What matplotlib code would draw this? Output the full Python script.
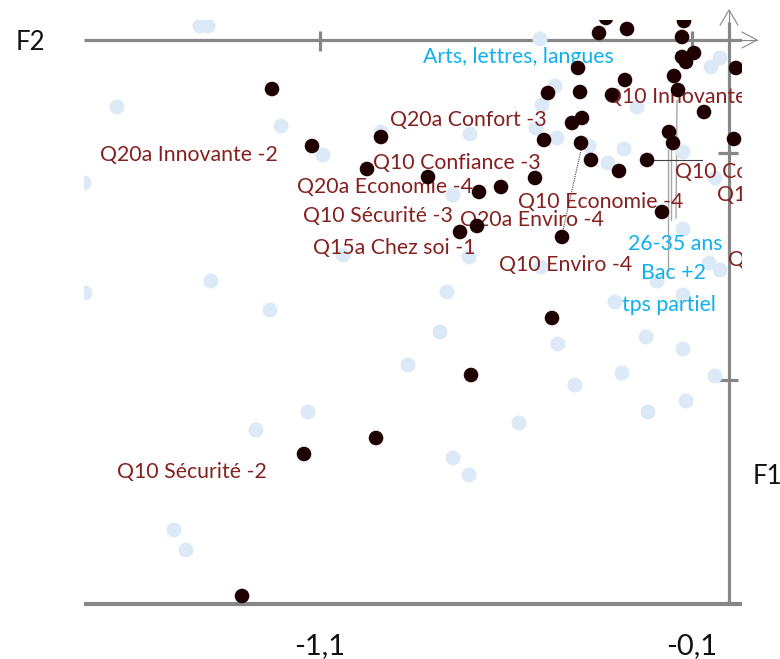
import matplotlib
matplotlib.use("Agg")
import matplotlib.pyplot as plt

plt.rcParams['font.family'] = ['Lato', 'DejaVu Sans']

# ---- data (factor coordinates) ----
dark_x = [-1.2285, -1.1210, -0.9355, -0.9731, -0.8091, -0.6720, -0.6129, -0.5215,
          -0.7231, -0.6774, -0.4489, -0.4758, -0.6935, -0.9489, -1.1425, -1.3091,
          -0.3495, -0.2742, -0.3306, -0.1210, -0.1263, -0.4059, -0.4866, -0.4005,
          -0.2796, -0.4220, -0.3952, -0.4973, -0.3978, -0.3710, -0.2957, -0.2204,
          -0.1478, -0.1263, -0.0941, -0.1156, -0.1371, -0.3145, -0.0672, 0.0188,
          0.0134, -0.1613, -0.1505, -0.1801]
dark_y = [-0.2159, -0.4670, -0.4273, -0.5683, -0.6035, -0.6696, -0.6476, -0.6079,
          -0.8458, -0.8194, -0.8678, -1.2247, -1.4758, -1.7533, -1.8238, -2.4493,
          0.0308, 0.0485, 0.0969, 0.0837, 0.0132, -0.1233, -0.2335, -0.2291,
          -0.1762, -0.3656, -0.3436, -0.4405, -0.4537, -0.5286, -0.5771, -0.5286,
          -0.1586, -0.0749, -0.0573, -0.0969, -0.2203, -0.2423, -0.3172, -0.1233,
          -0.4361, -0.4053, -0.4537, -0.7577]

light_x = [-1.4220, -1.4005, -1.6452, -1.2043, -1.0914, -0.9355, -1.7339, -1.0376,
           -1.3925, -1.7312, -1.2339, -0.6962, -0.7419, -0.6989, -0.5081, -0.0242,
           -0.0484, -0.4677, -0.5027, -0.5188, -0.4624, -0.3763, -0.3253, -0.2823,
           -0.2473, -0.0376, -0.1237, -0.1237, -0.5054, -0.7581, -0.3065, -0.0538,
           -0.0242, -0.1935, -0.1237, -0.7769, -0.8629, -0.4597, -0.2231, -0.1237,
           -0.2876, -0.4140, -0.0376, -0.1156, -0.2177, -0.5645, -0.7419, -0.6989,
           -1.1317, -1.2715, -1.4919, -1.4597]
light_y = [0.0617, 0.0617, -0.2952, -0.3789, -0.5066, -0.4053, -0.6300, -0.9471,
           -1.0617, -1.1145, -1.1894, -0.4141, -0.6828, -0.9559, 0.0044, -0.0793,
           -0.1189, -0.2026, -0.2863, -0.3877, -0.4317, -0.4670, -0.5419, -0.4802,
           -0.2952, -0.6079, -0.8326, -0.4934, -1.0000, -1.1101, -1.1542, -0.9824,
           -1.0132, -1.0617, -1.1233, -1.2863, -1.4317, -1.3392, -1.3084, -1.3612,
           -1.4670, -1.5198, -1.4802, -1.5903, -1.6388, -1.6872, -1.8414, -1.9163,
           -1.6388, -1.7181, -2.1586, -2.2467]

# labels of the dark (question) points
red_labels = ["Q20a Innovante -2", "Q20a Confort -3", "Q10 Confiance -3",
              "Q20a Economie -4", "Q10 Sécurité -3", "Q15a Chez soi -1",
              "Q20a Enviro -4", "Q10 Economie -4", "Q10 Enviro -4",
              "Q10 Innovante -3", "Q10 Confort -4", "Q10 Sécurité -4",
              "Q10 Innovante -4", "Q10 Sécurité -2"]
red_lx = [-1.6909, -0.9113, -0.9570, -1.1613, -1.1452, -1.1183, -0.7231, -0.5672,
          -0.6183, -0.3333, -0.1452, -0.0323, -0.0027, -1.6452]
red_ly = [-0.5066, -0.3524, -0.5419, -0.6476, -0.7753, -0.9163, -0.7930, -0.7137,
          -0.9912, -0.2511, -0.5815, -0.6828, -0.9692, -1.9031]

# labels of the light (profile) points
blue_labels = ["Arts, lettres, langues", "26-35 ans", "Bac +2", "tps partiel"]
blue_lx = [-0.8226, -0.2715, -0.2366, -0.2876]
blue_ly = [-0.0749, -0.8987, -1.0264, -1.1674]

# leader lines (x0, y0, x1, y1)
leaders = [(-0.1398, -0.2643, -0.1425, -0.7841),
           (-0.1559, -0.4185, -0.1559, -0.7930),
           (-0.1640, -0.4846, -0.1640, -1.0044),
           (-0.2204, -0.5286, -0.0726, -0.5286)]
dotted_leader = (-0.3978, -0.4846, -0.4462, -0.8370)

xticks = [-1.1, -0.1]
xtick_labels = ["-1,1", "-0,1"]
yticks = [-0.5, -1.5]

XMIN, XMAX = -1.7339, 0.0349
YMIN, YMAX = -2.4846, 0.0881

# ---- figure ----
fig = plt.figure(figsize=(7.8, 6.59), dpi=100)
ax = fig.add_axes([84 / 780, 55 / 659, 658 / 780, 584 / 659])
ax.set_xlim(XMIN, XMAX)
ax.set_ylim(YMIN, YMAX)
ax.axis('off')

axis_gray = "#878787"

# axes lines
ax.plot([XMIN, XMAX], [0, 0], color=axis_gray, lw=2.3, solid_capstyle='butt', zorder=1)
ax.plot([XMAX, 0.0753], [0, 0], color=axis_gray, lw=0.8, clip_on=False, zorder=1)
ax.plot([XMAX, 0.0753, XMAX], [0.035, 0, -0.035], color=axis_gray, lw=0.8,
        clip_on=False, zorder=1)
ax.plot([0, 0], [YMIN, 0.0793], color=axis_gray, lw=2.3, solid_capstyle='butt',
        clip_on=False, zorder=1)
ax.plot([0, 0], [0.0793, 0.132], color=axis_gray, lw=0.8, clip_on=False, zorder=1)
ax.plot([-0.024, 0, 0.024], [0.066, 0.132, 0.066], color=axis_gray, lw=0.8,
        clip_on=False, zorder=1)
ax.plot([XMIN, XMAX], [YMIN, YMIN], color=axis_gray, lw=3.0, solid_capstyle='butt',
        clip_on=False, zorder=1)

# tick marks
ax.vlines(xticks, -0.0485, 0.0396, color=axis_gray, lw=2.3, zorder=1)
ax.hlines(yticks, -0.0296, 0.0242, color=axis_gray, lw=2.3, zorder=1)

# leader lines
for x0, y0, x1, y1 in leaders[:3]:
    ax.plot([x0, x1], [y0, y1], color="#a6a6a6", lw=1.0, zorder=2)
x0, y0, x1, y1 = leaders[3]
ax.plot([x0, x1], [y0, y1], color="#404040", lw=0.8, zorder=2)
x0, y0, x1, y1 = dotted_leader
ax.plot([x0, x1], [y0, y1], color="#404040", lw=0.8, ls=(0, (1, 1)), zorder=2)

# points
ax.scatter(light_x, light_y, s=10.8 ** 2, color="#dce9f6", edgecolors='none', zorder=2)
ax.scatter(dark_x, dark_y, s=10.5 ** 2, color="#1e0000", edgecolors='none', zorder=4)

# labels (clipped at the plot frame, as in the original)
for t, x, y in zip(red_labels, red_lx, red_ly):
    txt = ax.text(x, y, t, color="#84201f", fontsize=15.3, ha='left', va='center',
                  zorder=3)
    txt.set_clip_on(True)
    txt.set_clip_box(ax.bbox)
for t, x, y in zip(blue_labels, blue_lx, blue_ly):
    txt = ax.text(x, y, t, color="#10b0ec", fontsize=15.3, ha='left', va='center',
                  zorder=3)
    txt.set_clip_on(True)
    txt.set_clip_box(ax.bbox)

# tick labels and axis names
for xv, lab in zip(xticks, xtick_labels):
    ax.text(xv, -2.67, lab, fontsize=21, ha='center', va='center', color="#111111",
            clip_on=False)
fig.text(30 / 780, 1 - 42 / 659, "F2", fontsize=18.5, ha='center', va='center', color="#111111")
fig.text(753 / 780, 1 - 477 / 659, "F1", fontsize=18.5, ha='left', va='center', color="#111111")

fig.savefig("out.png", dpi=100)
